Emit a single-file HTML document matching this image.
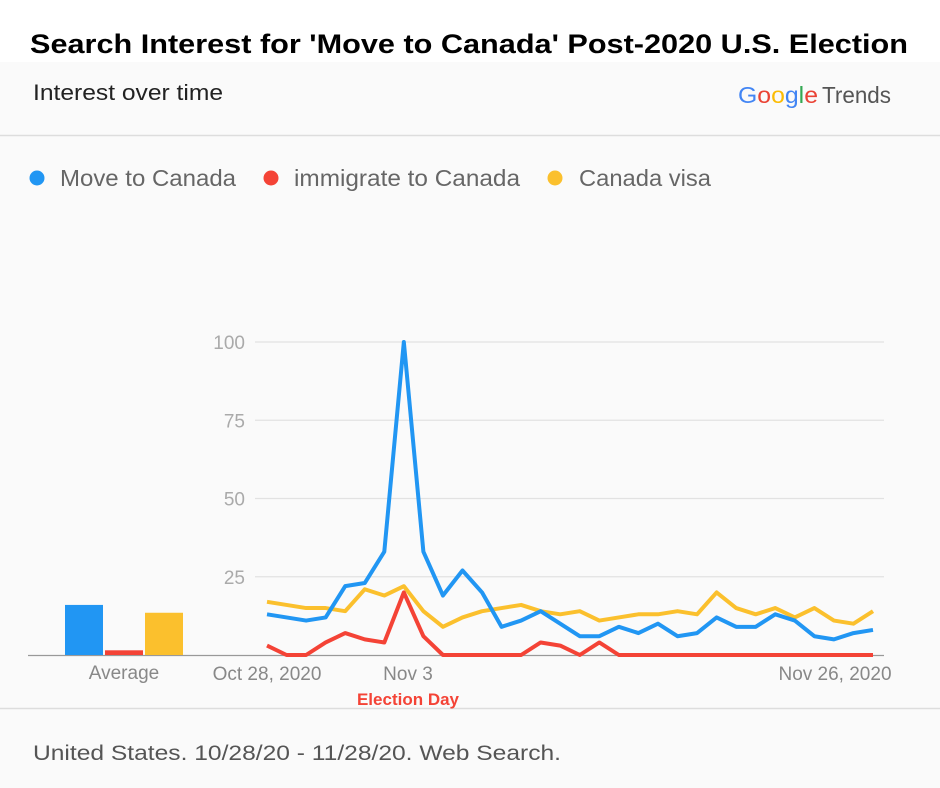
<!DOCTYPE html>
<html><head><meta charset="utf-8"><style>
body{margin:0;background:#fff}
svg{display:block;font-family:"Liberation Sans",sans-serif}
</style></head><body>
<svg width="940" height="788" viewBox="0 0 940 788">
<rect x="0" y="0" width="940" height="788" fill="#fff"/>
<rect x="0" y="62" width="940" height="726" fill="#fafafa"/>
<text x="469" y="53" text-anchor="middle" font-size="27" font-weight="bold" fill="#000" textLength="878" lengthAdjust="spacingAndGlyphs">Search Interest for 'Move to Canada' Post-2020 U.S. Election</text>
<text x="33" y="100" font-size="22" fill="#222" textLength="190" lengthAdjust="spacingAndGlyphs">Interest over time</text>
<g font-size="23">
<text x="738" y="103" textLength="80" lengthAdjust="spacingAndGlyphs"><tspan fill="#4285f4">G</tspan><tspan fill="#ea4335">o</tspan><tspan fill="#fbbc05">o</tspan><tspan fill="#4285f4">g</tspan><tspan fill="#34a853">l</tspan><tspan fill="#ea4335">e</tspan></text>
<text x="822" y="103" fill="#555" textLength="69" lengthAdjust="spacingAndGlyphs">Trends</text>
</g>
<line x1="0" y1="135.5" x2="940" y2="135.5" stroke="#ddd" stroke-width="1.5"/>
<g font-size="23" fill="#666">
<circle cx="37" cy="178" r="7.5" fill="#2196f3"/>
<text x="60" y="186" textLength="176" lengthAdjust="spacingAndGlyphs">Move to Canada</text>
<circle cx="271" cy="178" r="7.5" fill="#f44336"/>
<text x="294" y="186" textLength="226" lengthAdjust="spacingAndGlyphs">immigrate to Canada</text>
<circle cx="555" cy="178" r="7.5" fill="#fbc02d"/>
<text x="579" y="186" textLength="132" lengthAdjust="spacingAndGlyphs">Canada visa</text>
</g>
<g id="plot"></g>
<line x1="0" y1="708.5" x2="940" y2="708.5" stroke="#ddd" stroke-width="1.5"/>
<text x="33" y="760" font-size="21" fill="#555" textLength="528" lengthAdjust="spacingAndGlyphs">United States. 10/28/20 - 11/28/20. Web Search.</text>
<text x="408" y="705" text-anchor="middle" font-size="17" font-weight="bold" fill="#f44336">Election Day</text>
</svg>
<script>
const yTicks=[25,50,75,100];
const xLabels=["Oct 28, 2020","Nov 3","Nov 26, 2020"];
const xLabelIdx=[0,6,29];
const moveToCanada=[13,12,11,12,22,23,33,100,33,19,27,20,9,11,14,10,6,6,9,7,10,6,7,12,9,9,13,11,6,5,7,8];
const immigrateToCanada=[3,0,0,4,7,5,4,20,6,0,0,0,0,0,4,3,0,4,0,0,0,0,0,0,0,0,0,0,0,0,0,0];
const canadaVisa=[17,16,15,15,14,21,19,22,14,9,12,14,15,16,14,13,14,11,12,13,13,14,13,20,15,13,15,12,15,11,10,14];
const averages=[16,1.5,13.5];
const avgColors=["#2196f3","#f44336","#fbc02d"];
const NS="http://www.w3.org/2000/svg";
const g=document.getElementById("plot");
const x0=267,x1=873,yBase=655,yTop=342;
const xs=i=>x0+i*(x1-x0)/(moveToCanada.length-1);
const ys=v=>yBase-v*(yBase-yTop)/100;
function mk(t,a){const e=document.createElementNS(NS,t);for(const k in a)e.setAttribute(k,a[k]);g.appendChild(e);return e;}
yTicks.forEach(t=>{
 const l=mk("line",{x1:255,x2:884,y1:ys(t),y2:ys(t),stroke:"#e2e2e2","stroke-width":1.3});
 
 
 const tx=mk("text",{x:245,y:ys(t)+7,"text-anchor":"end","font-size":19,fill:"#aaa"});
 tx.textContent=t;
 
 
});
const ax=mk("line",{x1:28,x2:884,y1:yBase+0.5,y2:yBase+0.5,stroke:"#999","stroke-width":1.3});


xLabels.forEach((s,i)=>{
 const t=mk("text",{x:i==2?835:(i==0?267:408),y:680,"text-anchor":"middle","font-size":19,fill:"#888"});
 t.textContent=s;
 
 
});
const bx=[65,105,145];
averages.forEach((v,i)=>{
 const r=mk("rect",{x:bx[i],y:ys(v),width:38,height:yBase-ys(v),fill:avgColors[i]});
 
 
});
const at=mk("text",{x:124,y:679,"text-anchor":"middle","font-size":19,fill:"#888"});
at.textContent="Average";


[[canadaVisa,"#fbc02d","line-canada-visa"],[immigrateToCanada,"#f44336","line-immigrate-to-canada"],[moveToCanada,"#2196f3","line-move-to-canada"]].forEach(([d,c,n])=>{
 const p=mk("polyline",{points:d.map((v,i)=>xs(i)+","+ys(v)).join(" "),fill:"none",stroke:c,"stroke-width":4,"stroke-linejoin":"round"});
 
 
});
</script>
</body></html>
